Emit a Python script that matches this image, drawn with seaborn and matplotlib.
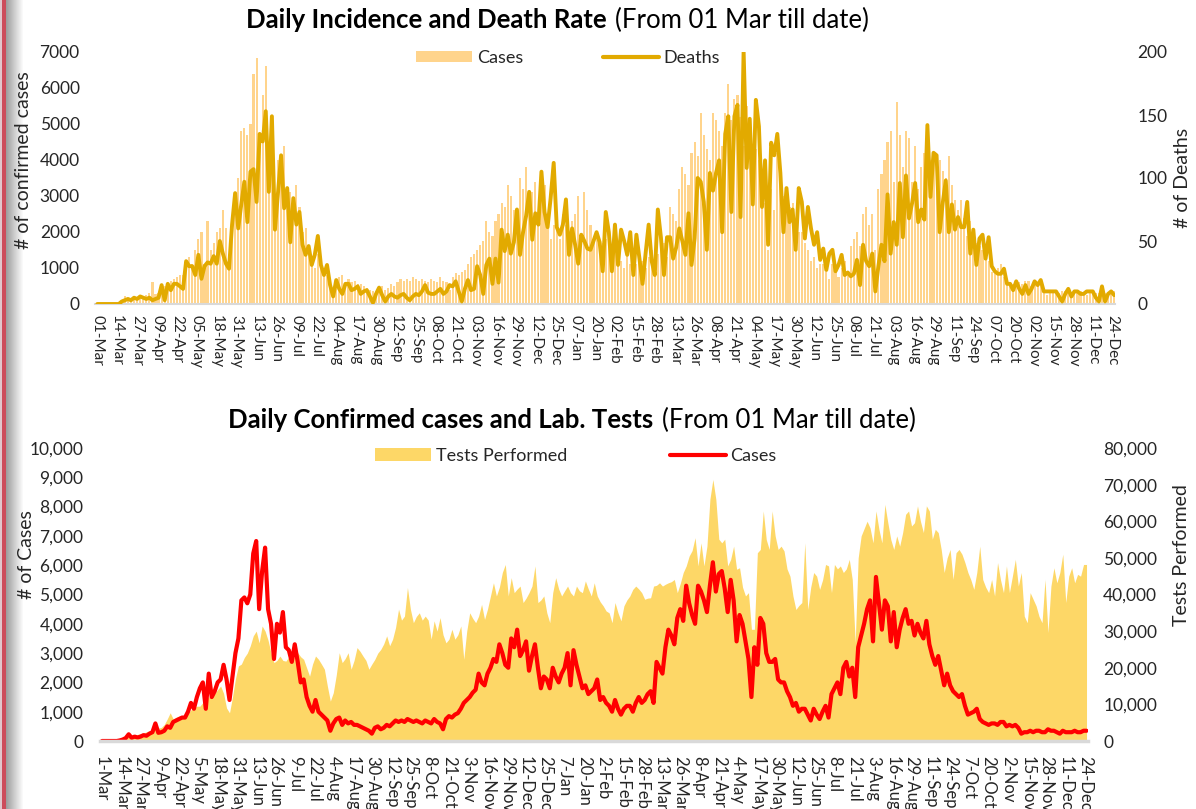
import numpy as np
import pandas as pd
import matplotlib
matplotlib.use("Agg")
import matplotlib.pyplot as plt
import seaborn as sns
from matplotlib.patches import Patch
from matplotlib.lines import Line2D
from matplotlib.ticker import FuncFormatter

# one value every 2 days, from 01 Mar 2020 (one row = 26 days)
start = pd.Timestamp("2020-03-01")

cases = [
    0, 0, 0, 0, 0, 0, 20, 50, 100, 230, 110, 150, 120,
    150, 200, 180, 250, 300, 600, 280, 300, 350, 500, 450, 650, 700,
    750, 800, 800, 1000, 1300, 1100, 1500, 1800, 2000, 1100, 2300, 1500, 1700,
    2000, 2100, 2600, 2100, 1400, 2200, 3000, 3500, 4800, 4900, 4700, 5000, 6400,
    6825, 4500, 5800, 6600, 4500, 4000, 2800, 4000, 3700, 4400, 3200, 3100, 2700,
    3300, 2700, 2000, 2100, 1500, 1200, 1000, 1400, 1000, 900, 800, 700, 350,
    600, 750, 800, 550, 700, 600, 650, 550, 550, 500, 450, 400, 350,
    250, 450, 500, 400, 450, 550, 500, 600, 700, 650, 700, 650, 750,
    700, 650, 700, 650, 600, 700, 650, 600, 750, 650, 600, 400, 750,
    850, 800, 900, 950, 1100, 1300, 1400, 1500, 1650, 1750, 2300, 2000, 1900,
    2300, 2500, 2800, 2700, 3300, 3000, 2600, 2500, 3500, 3200, 3800, 2900, 3100,
    3400, 2400, 2900, 3300, 2500, 1800, 2200, 2100, 1800, 2500, 2200, 2000, 2300,
    2500, 3000, 1900, 3100, 2600, 2200, 1800, 1900, 1600, 1700, 1800, 2100, 1400,
    1500, 1300, 1200, 1000, 1400, 1100, 900, 1100, 1200, 1200, 1000, 1300, 1500,
    1300, 1400, 1600, 1700, 1300, 2700, 2500, 2300, 3200, 3800, 3600, 3300, 4200,
    4500, 4100, 5300, 4700, 4300, 4000, 5300, 5100, 4800, 4400, 5300, 6100, 5100,
    5700, 5800, 5200, 4400, 5500, 4800, 3400, 4300, 4000, 3400, 2800, 1500, 3200,
    2600, 4200, 4000, 3000, 2700, 2700, 2800, 2100, 2000, 2000, 1700, 1500, 1200,
    1300, 1000, 1100, 1100, 900, 700, 1100, 900, 750, 1000, 1200, 800, 1600,
    1800, 2000, 1600, 2500, 2700, 2200, 2500, 1500, 3200, 3600, 4000, 4500, 4800,
    3400, 5600, 4700, 3800, 4800, 4600, 3400, 4400, 3200, 3800, 4200, 4500, 4000,
    4100, 3600, 4000, 3700, 3500, 4100, 3300, 2900, 2600, 2900, 2400, 1900, 2300,
    1900, 1700, 1600, 1500, 1600, 1200, 900, 950, 1000, 1100, 750, 650, 600,
    550, 600, 600, 550, 650, 650, 500, 550, 500, 550, 450, 250, 300,
    300, 350, 300, 350, 350, 300, 300, 400, 350, 350, 300, 250, 350,
    300, 300, 300, 350, 300, 300, 350, 350,
]

deaths = [
    0, 0, 0, 0, 0, 0, 0, 0, 2, 3, 4, 3, 5,
    4, 6, 5, 4, 5, 3, 4, 5, 15, 3, 16, 11, 16,
    16, 14, 12, 34, 30, 30, 23, 39, 20, 30, 33, 32, 38,
    32, 50, 40, 32, 28, 63, 88, 60, 79, 97, 65, 105, 107,
    81, 135, 129, 153, 89, 149, 59, 88, 118, 76, 92, 49, 84,
    63, 73, 47, 39, 46, 31, 39, 54, 31, 23, 31, 15, 6,
    19, 12, 8, 16, 16, 11, 12, 14, 8, 10, 11, 6, 1,
    8, 13, 7, 2, 6, 8, 6, 5, 7, 8, 5, 3, 6,
    8, 7, 10, 15, 9, 8, 8, 10, 12, 8, 10, 15, 14,
    18, 10, 2, 12, 19, 11, 12, 30, 23, 8, 31, 36, 16,
    36, 17, 59, 42, 55, 40, 49, 75, 39, 57, 70, 89, 51,
    72, 63, 105, 73, 61, 84, 112, 61, 55, 63, 83, 39, 60,
    47, 32, 55, 50, 44, 43, 50, 57, 49, 26, 73, 57, 26,
    63, 31, 59, 50, 39, 57, 23, 55, 36, 16, 40, 63, 34,
    23, 75, 53, 23, 53, 53, 36, 45, 60, 50, 39, 72, 31,
    52, 100, 97, 81, 43, 104, 90, 104, 114, 57, 135, 149, 73,
    149, 158, 69, 201, 108, 147, 79, 162, 141, 77, 114, 47, 128,
    118, 135, 104, 57, 92, 65, 75, 43, 92, 81, 52, 77, 60,
    47, 57, 35, 44, 27, 40, 43, 26, 31, 39, 23, 25, 22,
    24, 35, 15, 47, 34, 30, 40, 10, 30, 47, 34, 87, 40,
    65, 47, 96, 53, 102, 68, 80, 96, 65, 75, 67, 142, 85,
    120, 118, 57, 80, 98, 57, 79, 59, 69, 61, 61, 81, 40,
    59, 31, 52, 55, 36, 53, 30, 26, 24, 24, 28, 16, 16,
    11, 18, 12, 8, 15, 8, 12, 18, 15, 19, 10, 10, 10,
    10, 10, 6, 2, 8, 12, 6, 10, 10, 8, 8, 10, 10,
    10, 5, 2, 14, 2, 8, 10, 7,
]

tests = [
    0, 50, 100, 150, 200, 300, 400, 500, 800, 1000, 1200, 1500, 1800,
    2000, 2200, 2500, 2800, 3000, 3200, 3500, 3700, 4500, 6000, 7700, 6000, 6500,
    6800, 6500, 6800, 7500, 8500, 9000, 9500, 9500, 10500, 11500, 12000, 12300, 13000,
    14000, 15000, 13000, 9000, 7700, 12000, 17000, 20500, 21000, 22800, 24000, 26000, 28700,
    30000, 26800, 31400, 30000, 27500, 24000, 21400, 22000, 23200, 22000, 21800, 23000, 22300,
    23000, 24100, 23000, 22300, 20000, 17700, 21000, 23200, 22300, 21000, 19600, 15000, 10900,
    13200, 18000, 24100, 21400, 22500, 24100, 19600, 22000, 25500, 24500, 23200, 22000, 19600,
    21000, 22300, 24000, 25000, 26500, 28700, 26000, 27800, 31000, 36000, 33000, 34100, 41900,
    36000, 32300, 34000, 35000, 33000, 34100, 33000, 27800, 32800, 30000, 33700, 29000, 26800,
    27800, 30500, 27800, 29000, 31400, 22300, 30000, 35000, 33500, 32300, 34100, 37300, 33200,
    36000, 39600, 43200, 39600, 42000, 46000, 48200, 39600, 44600, 40500, 41500, 42300, 37800,
    39000, 40500, 42300, 47800, 37800, 38500, 39600, 35000, 32300, 40500, 44600, 41500, 39600,
    41000, 42300, 40500, 39600, 42300, 41000, 40500, 43700, 41500, 39600, 43200, 39600, 38000,
    36900, 35500, 35000, 32300, 37800, 35000, 32800, 36900, 38500, 39600, 41400, 42300, 41500,
    40500, 38700, 39000, 39100, 42300, 42500, 43200, 42300, 42800, 43200, 43500, 44100, 40500,
    43000, 46000, 47800, 50500, 52000, 55500, 47800, 54100, 47800, 53200, 66000, 71400, 66000,
    55100, 54100, 55100, 47800, 49600, 53200, 46900, 47300, 42000, 39600, 40500, 30500, 30500,
    51400, 52300, 62800, 55000, 52300, 62800, 56000, 52300, 53200, 51900, 47000, 45000, 39600,
    35900, 37000, 37800, 54100, 35900, 42000, 46000, 45000, 41400, 44000, 48200, 47800, 40500,
    48200, 47000, 47800, 46000, 47000, 49600, 44100, 26800, 50000, 56000, 58000, 60000, 58200,
    54100, 62800, 57800, 54100, 64600, 59600, 55000, 52300, 56000, 53200, 56900, 61900, 62800,
    58700, 59600, 64200, 60000, 56900, 64200, 62800, 55100, 57800, 56900, 52300, 46000, 50000,
    52300, 44100, 51400, 52300, 51000, 48700, 46000, 44000, 41400, 46000, 53200, 44100, 42000,
    40500, 44100, 39600, 48700, 44000, 40500, 47800, 40500, 45000, 49600, 42300, 46000, 34100,
    32300, 40500, 38700, 36900, 34000, 32300, 44100, 29600, 42300, 47300, 43200, 46000, 51000,
    37800, 45000, 47300, 43200, 45500, 45000, 48200, 48200,
]

dates = pd.date_range(start, periods=len(cases), freq="2D")
tick_dates = pd.date_range(start, "2021-12-24", freq="13D")

df = pd.DataFrame({"day": (dates - start).days, "cases": cases,
                   "deaths": deaths, "tests": tests})
tick_days = (tick_dates - start).days
top_labels = [d.strftime("%d-%b") for d in tick_dates]
bottom_labels = [f"{d.day}-{d.strftime('%b')}" for d in tick_dates]

BAR = "#FFD48C"
GOLD = "#E2AA00"
FILL = "#FDD767"
RED = "#FF0000"
TXT = "#262626"

sns.set_theme(style="white")
plt.rcParams["font.family"] = ["Lato", "DejaVu Sans"]

W, H = 1196, 809
fig = plt.figure(figsize=(W / 100, H / 100), dpi=100)


def box(l, t, r, b):
    return [l / W, 1 - b / H, (r - l) / W, (b - t) / H]


def clean(ax):
    for s in ax.spines.values():
        s.set_visible(False)


# ---- slide edge on the left (kept behind everything)
edge = fig.add_axes([0, 0, 24 / W, 1])
edge.set_zorder(-10)
cols = np.ones((1, 24, 3))
cols[0, :2] = [0.88, 0.78, 0.80]
cols[0, 2:6] = [0.80, 0.30, 0.36]
ramp = np.linspace(0.55, 1.0, 18) ** 0.8
cols[0, 6:] = np.stack([ramp, ramp, ramp], axis=1)
edge.imshow(cols, aspect="auto", extent=(0, 1, 0, 1))
edge.axis("off")

# ---- top chart: cases bars + deaths line
ax1 = fig.add_axes(box(95, 52, 1115, 304))
ax1.bar(df["day"], df["cases"], width=1.4, color=BAR, linewidth=0)
ax1b = ax1.twinx()
sns.lineplot(data=df, x="day", y="deaths", ax=ax1b, color=GOLD, linewidth=2.8)

ax1.set_xlim(-1.5, 664.5)
ax1.set_ylim(0, 7000)
ax1.set_yticks(range(0, 7001, 1000))
ax1b.set_ylim(0, 200)
ax1b.set_yticks(range(0, 201, 50))
ax1.set_xticks(tick_days)
ax1.set_xticklabels(top_labels, rotation=-90, fontsize=11, color=TXT)
ax1.tick_params(axis="x", length=4, color="#BFBFBF", width=1, pad=4)
ax1.tick_params(axis="y", length=0, pad=11, labelsize=12.5, labelcolor=TXT)
ax1b.tick_params(axis="y", length=0, pad=16, labelsize=12.5, labelcolor=TXT)
clean(ax1)
clean(ax1b)
ax1.spines["bottom"].set_visible(True)
ax1.spines["bottom"].set_color("#D9D9D9")
ax1.spines["bottom"].set_linewidth(1.5)
ax1.set_xlabel("")
ax1b.set_xlabel("")
ax1.set_ylabel("# of confirmed cases", fontsize=14, color=TXT)
ax1.yaxis.set_label_coords(-0.062, 0.57)
ax1b.set_ylabel("# of Deaths", fontsize=14, color=TXT)
ax1b.yaxis.set_label_coords(1.058, 0.5)

fig.text(607 / W, 1 - 28 / H, "Daily Incidence and Death Rate", ha="right",
         va="baseline", fontsize=18.5, fontweight="bold", color="black")
fig.text(615 / W, 1 - 28 / H, "(From 01 Mar till date)", ha="left",
         va="baseline", fontsize=18.5, color="black")
fig.legend(handles=[Patch(color=BAR, linewidth=0), Line2D([], [], color=GOLD, lw=3)],
           labels=["Cases", "Deaths"], loc="center",
           bbox_to_anchor=(568 / W, 1 - 58 / H), ncol=2, frameon=False,
           fontsize=13, handlelength=3.1, handleheight=0.6, handletextpad=0.25,
           columnspacing=4.4, labelcolor=TXT)

# ---- bottom chart: tests area + cases line
ax2 = fig.add_axes(box(100, 448, 1088, 741))
ax2b = ax2.twinx()
ax2b.fill_between(df["day"], df["tests"], color=FILL, linewidth=0)
sns.lineplot(data=df, x="day", y="cases", ax=ax2, color=RED, linewidth=3.0)
ax2.set_zorder(ax2b.get_zorder() + 1)
ax2.patch.set_visible(False)

ax2.set_xlim(-1.35, 665)
ax2.set_ylim(0, 10000)
ax2.set_yticks(range(0, 10001, 1000))
ax2b.set_ylim(0, 80000)
ax2b.set_yticks(range(0, 80001, 10000))
comma = FuncFormatter(lambda v, p: f"{v:,.0f}")
ax2.yaxis.set_major_formatter(comma)
ax2b.yaxis.set_major_formatter(comma)
ax2.set_xticks(tick_days)
ax2.set_xticklabels(bottom_labels, rotation=-90, fontsize=12, color=TXT)
ax2.tick_params(axis="x", length=0, pad=11)
ax2.tick_params(axis="y", length=0, pad=12, labelsize=12.5, labelcolor=TXT)
ax2b.tick_params(axis="y", length=0, pad=11, labelsize=12.5, labelcolor=TXT)
clean(ax2)
clean(ax2b)
ax2.spines["bottom"].set_visible(True)
ax2.spines["bottom"].set_color("#D9D9D9")
ax2.spines["bottom"].set_linewidth(2.5)
ax2.set_xlabel("")
ax2b.set_xlabel("")
ax2.set_ylabel("# of Cases", fontsize=14, color=TXT)
ax2.yaxis.set_label_coords(-0.066, 0.635)
ax2b.set_ylabel("Tests Performed", fontsize=14, color=TXT)
ax2b.yaxis.set_label_coords(1.086, 0.635)

fig.text(653 / W, 1 - 428 / H, "Daily Confirmed cases and Lab. Tests", ha="right",
         va="baseline", fontsize=18.5, fontweight="bold", color="black")
fig.text(662 / W, 1 - 428 / H, "(From 01 Mar till date)", ha="left",
         va="baseline", fontsize=18.5, color="black")
fig.legend(handles=[Patch(color=FILL, linewidth=0), Line2D([], [], color=RED, lw=3)],
           labels=["Tests Performed", "Cases"], loc="center",
           bbox_to_anchor=(576 / W, 1 - 456 / H), ncol=2, frameon=False,
           fontsize=13, handlelength=3.1, handleheight=0.7, handletextpad=0.25,
           columnspacing=5.7, labelcolor=TXT)

fig.savefig("out.png", dpi=100)
